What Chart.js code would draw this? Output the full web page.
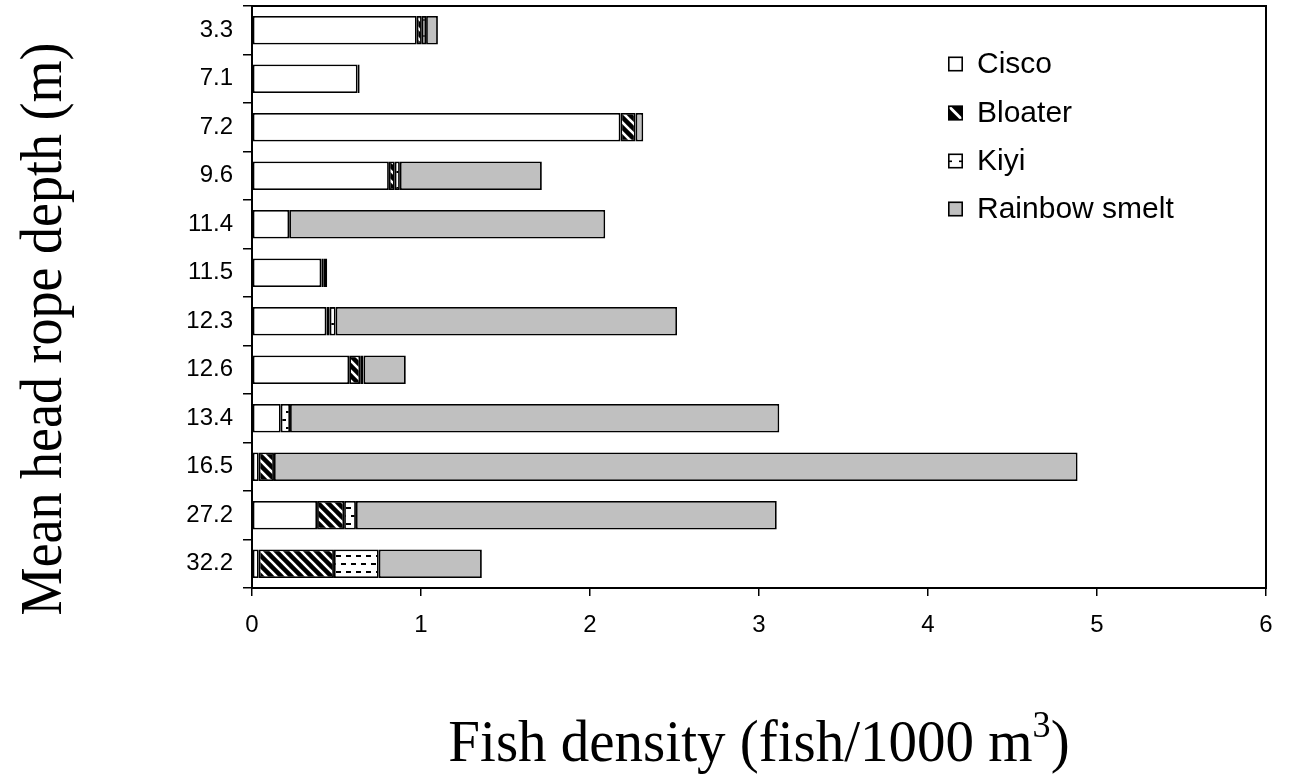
<!DOCTYPE html>
<html>
<head>
<meta charset="utf-8">
<script src="https://cdn.jsdelivr.net/npm/chart.js@4/dist/chart.umd.min.js"></script>
<style>
  html, body { margin: 0; padding: 0; background: #fff; }
  #wrap { width: 1290px; height: 782px; }
</style>
</head>
<body>
<div id="wrap"><canvas id="c" width="1290" height="782"></canvas></div>
<script>
// Mean head rope depth (m) of each trawl, top to bottom
const depths = ['3.3', '7.1', '7.2', '9.6', '11.4', '11.5', '12.3', '12.6', '13.4', '16.5', '27.2', '32.2'];

// Fish density (fish/1000 m3) by species
const cisco   = [0.975, 0.625, 2.18, 0.81, 0.22, 0.41, 0.44, 0.575, 0.17, 0.04, 0.385, 0.04];
const bloater = [0.03, 0.012, 0.09, 0.035, 0, 0.015, 0.02, 0.065, 0, 0.09, 0.16, 0.445];
const kiyi    = [0.025, 0, 0, 0.03, 0, 0, 0.035, 0.02, 0.055, 0, 0.07, 0.265];
const smelt   = [0.07, 0, 0.045, 0.84, 1.87, 0.02, 2.02, 0.25, 2.895, 4.755, 2.49, 0.61];

const speciesNames = ['Cisco', 'Bloater', 'Kiyi', 'Rainbow smelt'];
const xTicks = [0, 1, 2, 3, 4, 5, 6];

const ctx = document.getElementById('c').getContext('2d');

// Black bars with white diagonal stripes
function stripePattern() {
  const s = 10;
  const t = document.createElement('canvas');
  t.width = s; t.height = s;
  const g = t.getContext('2d');
  g.fillStyle = '#000';
  g.fillRect(0, 0, s, s);
  g.strokeStyle = '#fff';
  g.lineWidth = 2.6;
  for (const x0 of [-s, 0, s]) {
    g.beginPath();
    g.moveTo(x0 - 1, -1);
    g.lineTo(x0 + s + 1, s + 1);
    g.stroke();
  }
  return ctx.createPattern(t, 'repeat');
}

// White bars with staggered short dashes
function dashPattern() {
  const t = document.createElement('canvas');
  t.width = 10; t.height = 16;
  const g = t.getContext('2d');
  g.fillStyle = '#fff';
  g.fillRect(0, 0, 10, 16);
  g.fillStyle = '#000';
  g.fillRect(1, 3, 5, 2);
  g.fillRect(6, 11, 4, 2);
  g.fillRect(0, 11, 1, 2);
  return ctx.createPattern(t, 'repeat');
}

const fills = ['#ffffff', stripePattern(), dashPattern(), '#c0c0c0'];
const seriesValues = [cisco, bloater, kiyi, smelt];

const FONT_SANS = '"Liberation Sans", Arial, sans-serif';
const FONT_SERIF = '"Liberation Serif", "Times New Roman", serif';

// Frame, legend and axis titles
const decorations = {
  id: 'decorations',
  afterDraw(chart) {
    const c = chart.ctx;
    const a = chart.chartArea;
    c.save();
    c.strokeStyle = '#000';
    c.lineWidth = 2;
    c.strokeRect(a.left, a.top, a.right - a.left, a.bottom - a.top);

    // legend
    const rowsY = [64, 113, 161, 209];
    const bx = 948, bs = 15;
    c.font = '30px ' + FONT_SANS;
    c.textBaseline = 'middle';
    c.textAlign = 'left';
    chart.data.datasets.forEach((ds, i) => {
      const y = rowsY[i] - bs / 2;
      c.save();
      c.beginPath();
      c.rect(bx, y, bs, bs);
      c.clip();
      if (i === 1) {
        c.fillStyle = '#000';
        c.fillRect(bx, y, bs, bs);
        c.strokeStyle = '#fff';
        c.lineWidth = 3;
        c.beginPath();
        c.moveTo(bx, y);
        c.lineTo(bx + bs, y + bs);
        c.stroke();
      } else if (i === 2) {
        c.fillStyle = '#fff';
        c.fillRect(bx, y, bs, bs);
        c.fillStyle = '#000';
        c.fillRect(bx, y + 7, 4, 1.6);
        c.fillRect(bx + bs - 4, y + 7, 4, 1.6);
      } else {
        c.fillStyle = ds.backgroundColor;
        c.fillRect(bx, y, bs, bs);
      }
      c.restore();
      c.lineWidth = 1.6;
      c.strokeStyle = '#000';
      c.strokeRect(bx + 0.8, y + 0.8, bs - 1.6, bs - 1.6);
      c.fillStyle = '#000';
      c.fillText(ds.label, 977, rowsY[i] + 1);
    });

    // y axis title
    c.save();
    c.translate(61, 329);
    c.rotate(-Math.PI / 2);
    c.scale(0.9, 1);
    c.font = '60px ' + FONT_SERIF;
    c.textAlign = 'center';
    c.textBaseline = 'alphabetic';
    c.fillStyle = '#000';
    c.fillText('Mean head rope depth (m)', 0, 0);
    c.restore();

    // x axis title with superscript
    c.save();
    const cx = (a.left + a.right) / 2;
    c.translate(cx, 761);
    c.scale(0.95, 1);
    c.fillStyle = '#000';
    c.textBaseline = 'alphabetic';
    c.textAlign = 'left';
    const main = 'Fish density (fish/1000 m';
    const sup = '3';
    const close = ')';
    c.font = '60px ' + FONT_SERIF;
    const w1 = c.measureText(main).width;
    const w3 = c.measureText(close).width;
    c.font = '38px ' + FONT_SERIF;
    const w2 = c.measureText(sup).width;
    let x = -(w1 + w2 + w3) / 2;
    c.font = '60px ' + FONT_SERIF;
    c.fillText(main, x, 0);
    x += w1;
    c.font = '38px ' + FONT_SERIF;
    c.fillText(sup, x, -24);
    x += w2;
    c.font = '60px ' + FONT_SERIF;
    c.fillText(close, x, 0);
    c.restore();

    c.restore();
  }
};

new Chart(ctx, {
  type: 'bar',
  data: {
    labels: depths,
    datasets: speciesNames.map((name, i) => ({
      label: name,
      data: seriesValues[i],
      backgroundColor: fills[i],
      borderColor: '#000',
      borderWidth: 1.8,
      borderSkipped: false,
      barPercentage: 0.59,
      categoryPercentage: 1.0
    }))
  },
  options: {
    indexAxis: 'y',
    responsive: false,
    animation: false,
    layout: { padding: { top: 6, right: 24, left: 0, bottom: 0 } },
    plugins: {
      legend: { display: false },
      tooltip: { enabled: false },
      title: { display: false }
    },
    scales: {
      x: {
        stacked: true,
        min: 0,
        max: 6,
        afterBuildTicks(scale) { scale.ticks = xTicks.map(v => ({ value: v })); },
        afterFit(scale) { scale.height = 194; },
        ticks: {
          color: '#000',
          font: { family: FONT_SANS, size: 24 },
          padding: 15,
          maxRotation: 0
        },
        grid: { drawOnChartArea: false, drawTicks: true, tickLength: 8, color: '#000', lineWidth: 1.5 },
        border: { display: true, color: '#000', width: 2 }
      },
      y: {
        stacked: true,
        afterFit(scale) {
          scale.width = 252;
          scale.paddingTop = 0;
          scale.paddingBottom = 0;
        },
        ticks: {
          color: '#000',
          font: { family: FONT_SANS, size: 24 },
          padding: 10
        },
        grid: { drawOnChartArea: false, drawTicks: true, tickLength: 9, color: '#000', lineWidth: 1.5, offset: true },
        border: { display: true, color: '#000', width: 2 }
      }
    }
  },
  plugins: [decorations]
});
</script>
</body>
</html>
